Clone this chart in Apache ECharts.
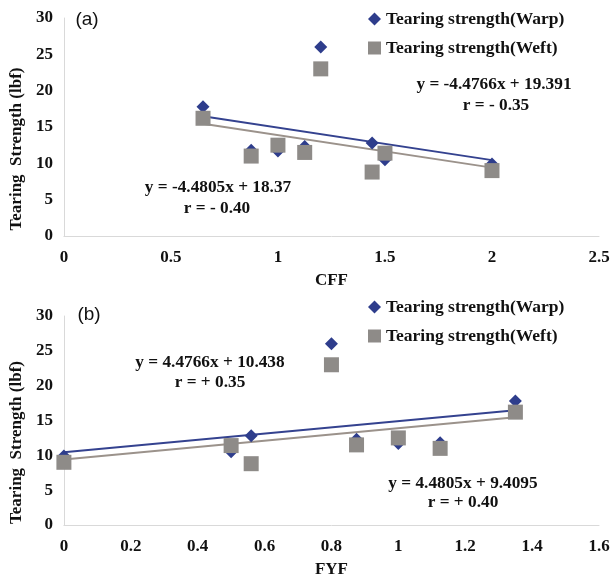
<!DOCTYPE html>
<html><head><meta charset="utf-8">
<script src="https://cdn.jsdelivr.net/npm/echarts@6/dist/echarts.min.js"></script>
<style>html,body{margin:0;padding:0;background:#fff}#c{width:613px;height:579px}</style>
</head><body><div id="c"></div>
<script>
// Panel (a): CFF
const cffX = [0.65, 0.875, 1.0, 1.125, 1.2, 1.44, 1.5, 2.0];
const cffWarp = [17.8, 11.8, 11.7, 12.3, 26.0, 12.8, 10.5, 9.9];
const cffWeft = [16.2, 11.0, 12.5, 11.5, 23.0, 8.8, 11.4, 9.0];
const cffTrendX = [0.65, 2.0];
const cffTrendWarp = [16.48, 10.44];
const cffTrendWeft = [15.46, 9.41];
// Panel (b): FYF
const fyfX = [0, 0.5, 0.56, 0.8, 0.875, 1.0, 1.125, 1.35];
const fyfWarp = [9.9, 10.5, 12.8, 26.0, 12.3, 11.7, 11.8, 17.8];
const fyfWeft = [9.0, 11.4, 8.8, 23.0, 11.5, 12.5, 11.0, 16.2];
const fyfTrendX = [0, 1.35];
const fyfTrendWarp = [10.44, 16.48];
const fyfTrendWeft = [9.41, 15.46];

const warpName = 'Tearing strength(Warp)';
const weftName = 'Tearing strength(Weft)';
const blue = '#2E3D8C';
const gray = '#8E8B88';
const blueLine = '#34428F';
const grayLine = '#9B928B';
const serif = '"Liberation Serif","Times New Roman",serif';

const zip = (xs, ys) => xs.map((x, i) => [x, ys[i]]);

function xAxis(grid, max, interval, name) {
  return {
    type: 'value', gridIndex: grid, min: 0, max: max, interval: interval,
    name: name, nameLocation: 'middle', nameGap: 36,
    nameTextStyle: {fontFamily: serif, fontWeight: 'bold', fontSize: 17, color: '#111'},
    axisLine: {show: true, lineStyle: {color: '#D9D9D9', width: 1}},
    axisTick: {show: false}, splitLine: {show: false},
    axisLabel: {fontFamily: serif, fontWeight: 'bold', fontSize: 17, color: '#111', margin: 13,
      formatter: v => String(+v.toFixed(1))}
  };
}
function yAxis(grid) {
  return {
    type: 'value', gridIndex: grid, min: 0, max: 30, interval: 5,
    name: 'Tearing  Strength (lbf)', nameLocation: 'middle', nameGap: 36, nameRotate: 90,
    nameTextStyle: {fontFamily: serif, fontWeight: 'bold', fontSize: 17, color: '#111',
      padding: [0, 44, 0, 0]},
    axisLine: {show: true, lineStyle: {color: '#D9D9D9', width: 1}},
    axisTick: {show: false}, splitLine: {show: false},
    axisLabel: {fontFamily: serif, fontWeight: 'bold', fontSize: 17, color: '#111', margin: 11}
  };
}
function scatter(name, data, grid, sym, size, color) {
  return {type: 'scatter', name: name, xAxisIndex: grid, yAxisIndex: grid, data: data,
    symbol: sym, symbolSize: size, itemStyle: {color: color, opacity: 1}, z: 3};
}
function trend(data, grid, color) {
  return {type: 'line', xAxisIndex: grid, yAxisIndex: grid, data: data, showSymbol: false,
    symbol: 'none', lineStyle: {color: color, width: 2}, silent: true, z: 2};
}
function legend(top) {
  return {
    orient: 'vertical', left: 363, top: top, itemGap: 11, itemWidth: 13, itemHeight: 13,
    textStyle: {fontFamily: serif, fontWeight: 'bold', fontSize: 17.5, color: '#111'},
    data: [{name: warpName, icon: 'diamond'}, {name: weftName, icon: 'rect'}],
    selectedMode: false
  };
}
function txt(x, y, s) {
  return {type: 'text', x: x, y: y,
    style: {text: s, fontFamily: serif, fontWeight: 'bold', fontSize: 17.3, fill: '#111',
      textAlign: 'center', textVerticalAlign: 'middle'}};
}
function tag(x, y, s) {
  return {type: 'text', x: x, y: y,
    style: {text: s, fontFamily: '"Liberation Sans", Arial, sans-serif', fontSize: 19, fill: '#111',
      textAlign: 'center', textVerticalAlign: 'middle'}};
}

const chart = echarts.init(document.getElementById('c'), null, {renderer: 'canvas'});
chart.setOption({
  animation: false,
  backgroundColor: '#fff',
  grid: [
    {left: 62, top: 18, width: 537, height: 218},
    {left: 62, top: 316, width: 537, height: 216}
  ],
  xAxis: [xAxis(0, 2.5, 0.5, 'CFF'), xAxis(1, 1.6, 0.2, 'FYF')],
  yAxis: [yAxis(0), yAxis(1)],
  legend: [legend(5), legend(293)],
  series: [
    trend(zip(cffTrendX, cffTrendWarp), 0, blueLine),
    trend(zip(cffTrendX, cffTrendWeft), 0, grayLine),
    scatter(warpName, zip(cffX, cffWarp), 0, 'diamond', 13, blue),
    scatter(weftName, zip(cffX, cffWeft), 0, 'rect', 15, gray),
    trend(zip(fyfTrendX, fyfTrendWarp), 1, blueLine),
    trend(zip(fyfTrendX, fyfTrendWeft), 1, grayLine),
    scatter(warpName, zip(fyfX, fyfWarp), 1, 'diamond', 13, blue),
    scatter(weftName, zip(fyfX, fyfWeft), 1, 'rect', 15, gray)
  ],
  graphic: [
    tag(87, 20, '(a)'),
    tag(89, 315, '(b)'),
    txt(494, 85, 'y = -4.4766x + 19.391'),
    txt(496, 106, 'r = - 0.35'),
    txt(218, 188, 'y = -4.4805x + 18.37'),
    txt(217, 209, 'r = - 0.40'),
    txt(210, 363, 'y = 4.4766x + 10.438'),
    txt(210, 383, 'r = + 0.35'),
    txt(463, 484, 'y = 4.4805x + 9.4095'),
    txt(463, 503, 'r = + 0.40')
  ]
});
</script></body></html>
